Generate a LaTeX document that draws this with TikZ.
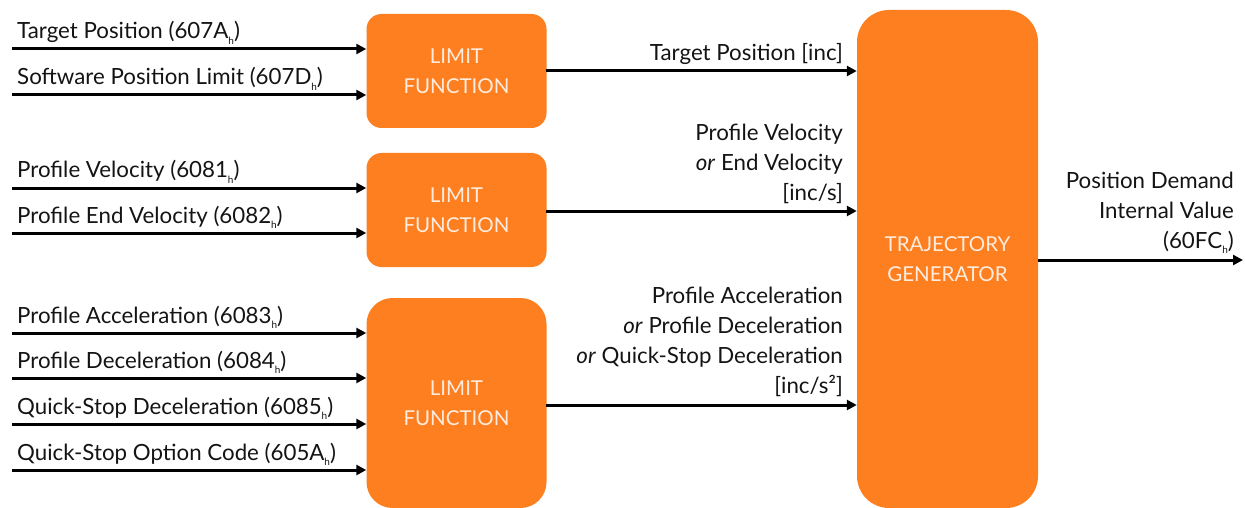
\documentclass[tikz,border=0pt]{standalone}
\usepackage{fontspec}
\setmainfont{Lato}
\usetikzlibrary{arrows.meta}
\definecolor{borange}{RGB}{253,127,32}
\definecolor{btext}{RGB}{255,236,222}
\definecolor{ink}{RGB}{20,20,20}
\newcommand{\hx}{\raisebox{-0.45ex}{\fontsize{10}{10}\selectfont h}}
\tikzset{
  blk/.style={fill=borange, draw=none, text=btext, align=center, inner sep=0pt,
    font=\fontsize{20.5}{30}\selectfont},
  arr/.style={draw=black, line width=3pt, -{Triangle[length=10pt,width=10pt]}},
  inlbl/.style={anchor=base west, inner sep=0pt, text=ink},
  outlbl/.style={anchor=south east, inner sep=0pt, align=right, text=ink},
}
\begin{document}
\begin{tikzpicture}[x=1pt,y=-1pt,font=\fontsize{22.3}{30}\selectfont]
\useasboundingbox (0,0) rectangle (1245,508);
% blocks
\node[blk, rounded corners=15pt, minimum width=180pt, minimum height=114pt] (lf1) at (456.5,71) {LIMIT\\FUNCTION};
\node[blk, rounded corners=15pt, minimum width=180pt, minimum height=114pt] (lf2) at (456.5,210) {LIMIT\\FUNCTION};
\node[blk, rounded corners=26pt, minimum width=180pt, minimum height=210pt] (lf3) at (456.5,403) {LIMIT\\FUNCTION};
\node[blk, rounded corners=32pt, minimum width=181pt, minimum height=498pt] (tg) at (947.5,259) {TRAJECTORY\\GENERATOR};
% input coordinates
\coordinate (i1) at (12,49);
\coordinate (i2) at (12,95);
\coordinate (i3) at (12,188);
\coordinate (i4) at (12,233);
\coordinate (i5) at (12,333);
\coordinate (i6) at (12,378);
\coordinate (i7) at (12,424);
\coordinate (i8) at (12,470);
\draw[arr] (i1) -- (i1 -| lf1.west);
\draw[arr] (i2) -- (i2 -| lf1.west);
\draw[arr] (i3) -- (i3 -| lf2.west);
\draw[arr] (i4) -- (i4 -| lf2.west);
\draw[arr] (i5) -- (i5 -| lf3.west);
\draw[arr] (i6) -- (i6 -| lf3.west);
\draw[arr] (i7) -- (i7 -| lf3.west);
\draw[arr] (i8) -- (i8 -| lf3.west);
% input labels
\node[inlbl] (t1) at (17,39) {Target Position (607A\hx)};
\node[inlbl] (t2) at (17,85) {Software Position Limit (607D\hx)};
\node[inlbl] (t3) at (17,178) {Profile Velocity (6081\hx)};
\node[inlbl] (t4) at (17,223) {Profile End Velocity (6082\hx)};
\node[inlbl] (t5) at (17,323) {Profile Acceleration (6083\hx)};
\node[inlbl] (t6) at (17,368) {Profile Deceleration (6084\hx)};
\node[inlbl] (t7) at (17,414) {Quick-Stop Deceleration (6085\hx)};
\node[inlbl] (t8) at (17,460) {Quick-Stop Option Code (605A\hx)};
% outputs
\coordinate (o1) at (546,71);
\coordinate (o2) at (546,211);
\coordinate (o3) at (546,405);
\draw[arr] (o1) -- (o1 -| tg.west);
\draw[arr] (o2) -- (o2 -| tg.west);
\draw[arr] (o3) -- (o3 -| tg.west);
\node[outlbl] (ol1) at (843,65) {Target Position [inc]};
\node[outlbl] (ol2) at (843,204) {Profile Velocity\\\textit{or} End Velocity\\{}[inc/s]};
\node[outlbl] (ol3) at (843,397) {Profile Acceleration\\\textit{or} Profile Deceleration\\\textit{or} Quick-Stop Deceleration\\{}[inc/s²]};
% trajectory output
\coordinate (ot) at (1243,260);
\draw[arr] (tg.east |- ot) -- (ot);
\node[outlbl] (olt) at (1234,254) {Position Demand\\Internal Value\\(60FC\hx)};
\end{tikzpicture}
\end{document}
